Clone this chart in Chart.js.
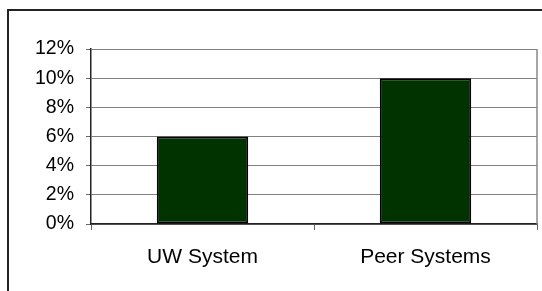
<html>
  <head>
    <script src="https://cdn.jsdelivr.net/npm/chart.js@4"></script>
    <style>
      body { margin: 0; background: #fff; }
      #wrap { width: 542px; height: 291px; }
    </style>
  </head>
  <body>
    <div id="wrap"><canvas id="myChart" width="542" height="291"></canvas></div>

    <script>
      var categories = ['UW System', 'Peer Systems']
      var values = [0.06, 0.10]
      var yTicks = [0, 0.02, 0.04, 0.06, 0.08, 0.10, 0.12]

      // outer frame and right edge of plot
      var frame = {
        id: 'frame',
        beforeDraw: function (chart) {
          var c = chart.ctx
          c.save()
          c.fillStyle = '#fff'
          c.fillRect(0, 0, chart.width, chart.height)
          c.strokeStyle = '#222'
          c.lineWidth = 2
          c.strokeRect(8, 10, chart.width + 10, chart.height + 10)
          c.restore()
        },
        afterDatasetsDraw: function (chart) {
          var a = chart.chartArea
          var c = chart.ctx
          c.save()
          c.strokeStyle = '#888'
          c.lineWidth = 1.5
          c.beginPath()
          c.moveTo(a.right, a.top)
          c.lineTo(a.right, a.bottom)
          c.stroke()
          c.restore()
        }
      }

      var ctx = document.getElementById('myChart').getContext('2d');
      var chart = new Chart(ctx, {
        type: 'bar',
        data: {
          labels: categories,
          datasets: [
            {
              backgroundColor: '#003300',
              borderColor: '#000',
              borderWidth: 2,
              borderSkipped: false,
              barPercentage: 0.41,
              categoryPercentage: 1,
              data: values
            }
          ]
        },
        options: {
          responsive: false,
          animation: false,
          layout: { padding: { top: 49, right: 5, left: 0, bottom: 0 } },
          plugins: { legend: { display: false }, tooltip: { enabled: false } },
          scales: {
            x: {
              afterFit: function (s) { s.height = 67 },
              grid: { drawOnChartArea: false, tickLength: 6, color: '#666', lineWidth: 1 },
              border: { color: '#222', width: 1.5 },
              ticks: {
                color: '#000',
                padding: 15,
                font: { family: 'Liberation Sans, Arial', size: 21 }
              }
            },
            y: {
              min: 0,
              max: 0.12,
              afterFit: function (s) { s.width = 91 },
              afterBuildTicks: function (s) {
                s.ticks = yTicks.map(function (v) { return { value: v } })
              },
              grid: { color: '#808080', lineWidth: 1, tickLength: 5, tickColor: '#666' },
              border: { color: '#222', width: 1.5 },
              ticks: {
                color: '#000',
                padding: 12,
                font: { family: 'Liberation Sans, Arial', size: 19.5 },
                callback: function (v) { return Math.round(v * 100) + '%' }
              }
            }
          }
        },
        plugins: [frame]
      });
    </script>
  </body>
</html>
